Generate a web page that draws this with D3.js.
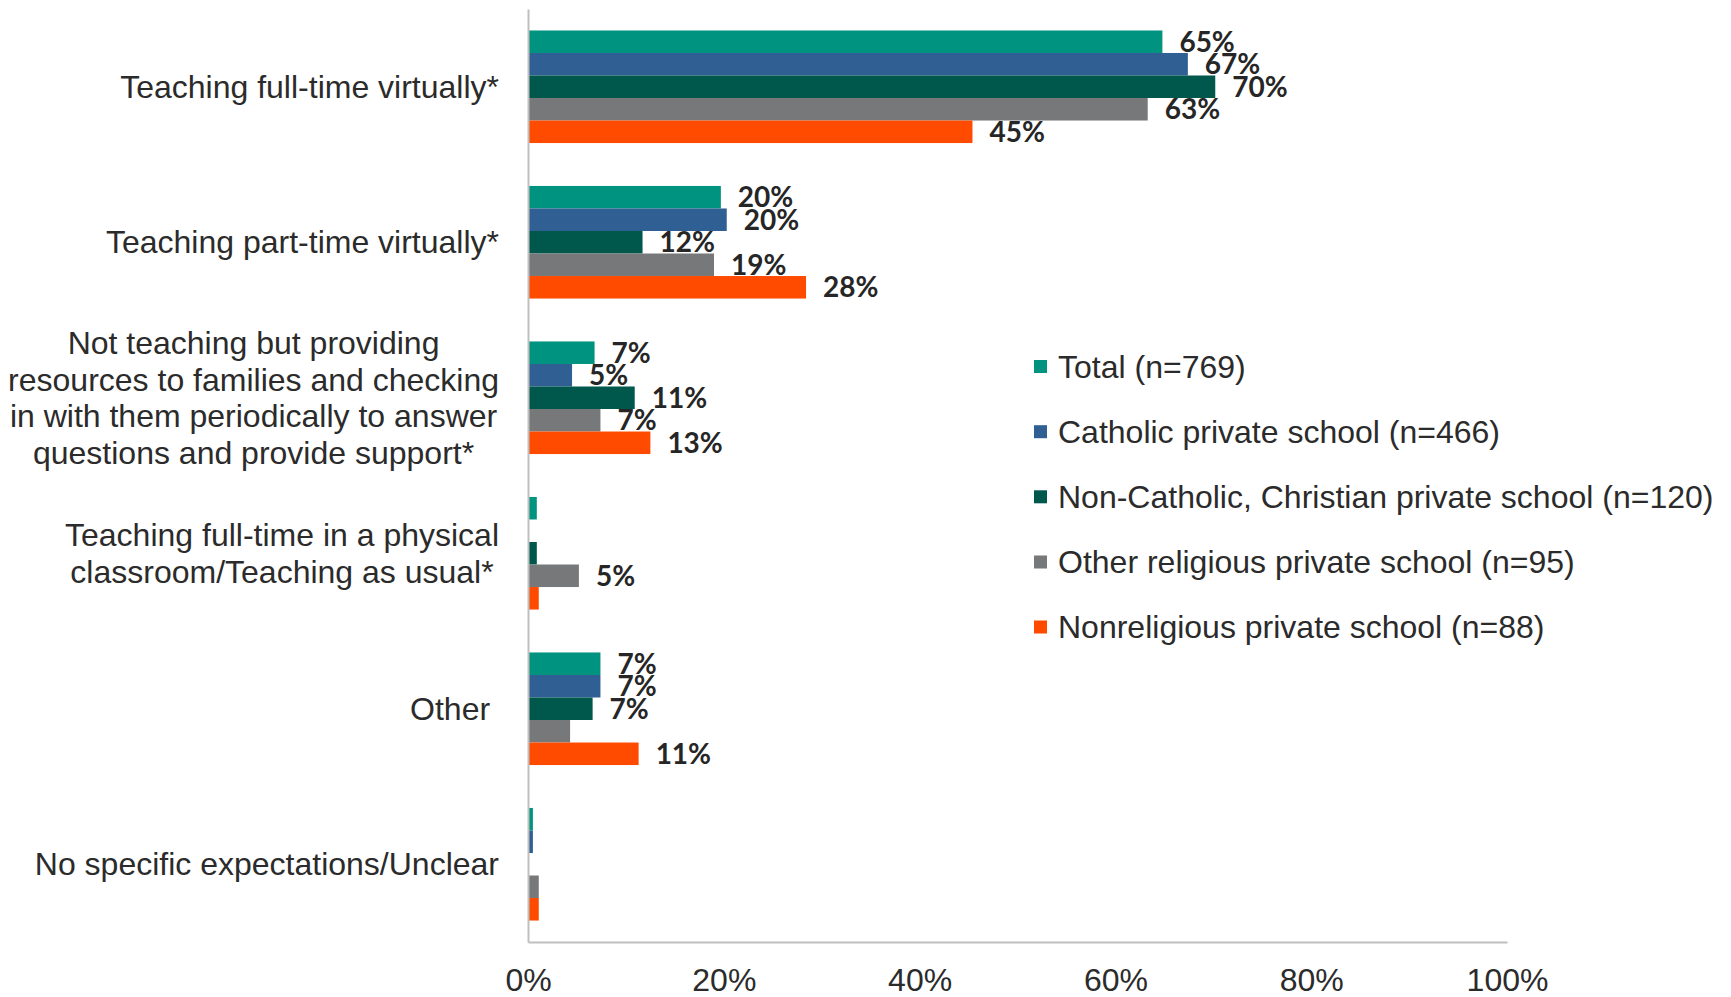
<!DOCTYPE html>
<html>
<head>
<meta charset="utf-8">
<script src="https://cdn.jsdelivr.net/npm/d3@7"></script>
<style>
  html, body { margin: 0; padding: 0; background: #fff; }
  svg { display: block; }
  .cat { font-family: "Liberation Sans", Arial, sans-serif; font-size: 32px; fill: #2b2b2b; white-space: pre; }
  .tick text { font-family: "Liberation Sans", Arial, sans-serif; font-size: 32px; fill: #2b2b2b; }
  .lbl { font-family: Lato, "Open Sans", sans-serif; font-weight: bold; font-size: 28px; fill: #262626; }
  .leg { font-family: "Liberation Sans", Arial, sans-serif; font-size: 32px; fill: #2b2b2b; }
</style>
</head>
<body>
<div id="chart"></div>
<script>
// categories (lines of each label)
var categories = [
  ['Teaching full-time virtually*'],
  ['Teaching part-time virtually*'],
  ['Not teaching but providing', 'resources to families and checking', 'in with them periodically to answer', 'questions and provide support*'],
  ['Teaching full-time in a physical', 'classroom/Teaching as usual*'],
  ['Other '],
  ['No specific expectations/Unclear']
];

var seriesNames = [
  'Total (n=769)',
  'Catholic private school (n=466)',
  'Non-Catholic, Christian private school (n=120)',
  'Other religious private school (n=95)',
  'Nonreligious private school (n=88)'
];
var seriesColors = ['#00937f', '#2f5f93', '#00584d', '#77787a', '#ff4b00'];

// values in percent, one per category
var totalVals     = [64.8, 19.7, 6.8, 0.9, 7.4, 0.5];
var catholicVals  = [67.4, 20.3, 4.5, 0.0, 7.4, 0.5];
var christianVals = [70.2, 11.7, 10.9, 0.9, 6.6, 0.0];
var otherRelVals  = [63.3, 19.0, 7.4, 5.2, 4.3, 1.1];
var nonRelVals    = [45.4, 28.4, 12.5, 1.1, 11.3, 1.1];

// data labels shown on the chart (null = none)
var totalLabels     = ['65%', '20%', '7%', null, '7%', null];
var catholicLabels  = ['67%', '20%', '5%', null, '7%', null];
var christianLabels = ['70%', '12%', '11%', null, '7%', null];
var otherRelLabels  = ['63%', '19%', '7%', '5%', null, null];
var nonRelLabels    = ['45%', '28%', '13%', null, '11%', null];

var xTicks = [0, 20, 40, 60, 80, 100];

var allVals = [totalVals, catholicVals, christianVals, otherRelVals, nonRelVals];
var allLabels = [totalLabels, catholicLabels, christianLabels, otherRelLabels, nonRelLabels];

var W = 1731, H = 997;
var plotLeft = 528, plotRight = 1507, plotTop = 9, plotBottom = 942;

var svg = d3.select('#chart').append('svg')
  .attr('width', W)
  .attr('height', H);

var catIdx = categories.map(function(d, i){ return i; });

var x = d3.scaleLinear().domain([0, 100]).range([plotLeft, plotRight]);
var y = d3.scaleBand().domain(catIdx).range([plotTop, plotBottom])
  .paddingInner(0.276).paddingOuter(0.138);
var ys = d3.scaleBand().domain(d3.range(seriesNames.length)).range([0, y.bandwidth()]);

// bars
var groups = svg.selectAll('g.grp')
  .data(catIdx)
  .enter().append('g')
    .attr('class', 'grp')
    .attr('transform', function(c){ return 'translate(0,' + y(c) + ')'; });

groups.selectAll('rect')
  .data(function(c){
    return allVals.map(function(vals, s){ return {s: s, v: vals[c], label: allLabels[s][c]}; });
  })
  .enter().append('rect')
    .attr('x', x(0))
    .attr('y', function(d){ return ys(d.s); })
    .attr('width', function(d){ return x(d.v) - x(0); })
    .attr('height', ys.bandwidth())
    .attr('fill', function(d){ return seriesColors[d.s]; });

groups.selectAll('text.lbl')
  .data(function(c){
    return allVals.map(function(vals, s){ return {s: s, v: vals[c], label: allLabels[s][c]}; })
      .filter(function(d){ return d.label; });
  })
  .enter().append('text')
    .attr('class', 'lbl')
    .attr('x', function(d){ return x(d.v) + 17; })
    .attr('y', function(d){ return ys(d.s) + ys.bandwidth() / 2; })
    .attr('dy', '0.36em')
    .text(function(d){ return d.label; });

// x axis
var xAxis = svg.append('g')
  .attr('transform', 'translate(0,' + plotBottom + ')')
  .call(d3.axisBottom(x).tickValues(xTicks).tickSize(0).tickPadding(26)
    .tickFormat(function(d){ return d + '%'; }));
xAxis.select('.domain').attr('stroke', '#bfbfbf').attr('stroke-width', 2);

// y axis line
var yAxis = svg.append('g')
  .attr('transform', 'translate(' + plotLeft + ',0)')
  .call(d3.axisLeft(d3.scaleLinear().range([plotTop, plotBottom])).tickValues([]).tickSize(0));
yAxis.select('.domain').attr('stroke', '#bfbfbf').attr('stroke-width', 2);

// category labels: centred block whose right edge sits at labelRight
var labelRight = 499, lineH = 36.8;
categories.forEach(function(lines, c){
  var cy = y(c) + y.bandwidth() / 2;
  var t = svg.append('text').attr('class', 'cat').attr('text-anchor', 'middle');
  var spans = lines.map(function(line, i){
    return t.append('tspan')
      .attr('y', cy + (i - (lines.length - 1) / 2) * lineH)
      .attr('dy', '0.35em')
      .text(line);
  });
  var maxW = d3.max(spans, function(s){ return s.node().getComputedTextLength(); });
  spans.forEach(function(s){ s.attr('x', labelRight - maxW / 2); });
});

// legend
var legY = [366.5, 431.7, 496.8, 562, 627];
var leg = svg.selectAll('g.leg')
  .data(seriesNames)
  .enter().append('g')
    .attr('transform', function(d, i){ return 'translate(1034,' + legY[i] + ')'; });
leg.append('rect')
  .attr('x', 0).attr('y', -6.5)
  .attr('width', 13).attr('height', 13)
  .attr('fill', function(d, i){ return seriesColors[i]; });
leg.append('text')
  .attr('class', 'leg')
  .attr('x', 24)
  .attr('dy', '0.35em')
  .text(function(d){ return d; });
</script>
</body>
</html>
